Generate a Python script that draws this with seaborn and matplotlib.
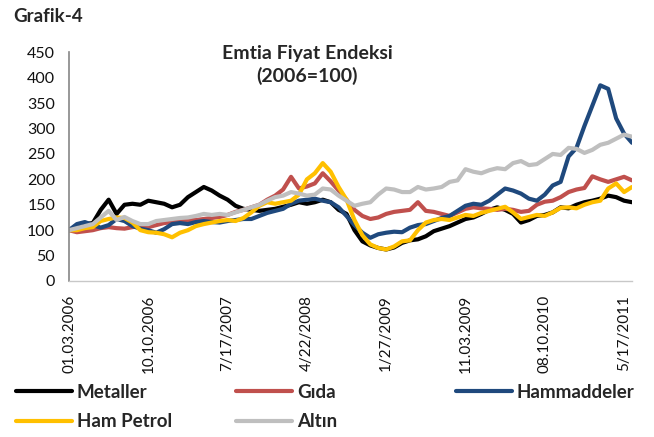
import numpy as np
import pandas as pd
import matplotlib
matplotlib.use("Agg")
import matplotlib.pyplot as plt
import seaborn as sns

# ---- data (index values, sampled every 20 business days from 01.03.2006) ----
metaller = [100, 108, 112, 114, 140, 160, 132, 150, 152, 150,
            158, 155, 152, 145, 150, 165, 175, 185, 178, 168,
            160, 148, 142, 140, 138, 140, 142, 146, 150, 155,
            152, 155, 160, 155, 140, 132, 100, 78, 70, 65,
            62, 66, 75, 80, 82, 88, 98, 103, 108, 115,
            122, 125, 132, 140, 145, 140, 132, 115, 120, 128,
            130, 135, 145, 143, 150, 155, 158, 162, 168, 165,
            158, 155]
gida = [100, 96, 98, 100, 104, 106, 104, 103, 106, 108,
        106, 110, 114, 116, 118, 120, 120, 122, 124, 126,
        130, 136, 140, 145, 150, 160, 168, 180, 205, 182,
        186, 192, 212, 196, 178, 160, 140, 128, 122, 125,
        132, 136, 138, 140, 155, 138, 136, 132, 128, 135,
        142, 145, 143, 142, 140, 142, 140, 136, 138, 150,
        156, 158, 165, 175, 180, 183, 206, 200, 195, 200,
        205, 198]
hammaddeler = [100, 112, 116, 110, 105, 110, 122, 118, 108, 103,
               100, 95, 102, 112, 114, 112, 116, 118, 116, 115,
               118, 120, 122, 122, 128, 134, 138, 142, 152, 158,
               160, 162, 158, 155, 145, 128, 110, 95, 85, 92,
               95, 97, 96, 105, 110, 112, 118, 124, 128, 138,
               148, 152, 150, 158, 170, 182, 178, 172, 162, 158,
               170, 188, 195, 245, 262, 305, 345, 385, 378, 320,
               290, 272]
ham_petrol = [100, 100, 104, 106, 118, 122, 125, 124, 115, 100,
              96, 95, 92, 86, 95, 100, 108, 112, 115, 118,
              120, 118, 124, 135, 148, 155, 152, 155, 158, 170,
              200, 212, 232, 215, 185, 160, 120, 90, 72, 65,
              62, 68, 78, 80, 100, 115, 120, 122, 120, 125,
              130, 128, 134, 138, 142, 146, 135, 122, 126, 130,
              128, 135, 144, 145, 143, 150, 155, 158, 182, 192,
              175, 185]
altin = [100, 104, 108, 112, 125, 138, 120, 126, 118, 112,
         112, 118, 120, 122, 124, 125, 128, 132, 130, 132,
         130, 135, 140, 145, 150, 158, 165, 168, 175, 172,
         168, 170, 182, 180, 168, 158, 148, 152, 155, 170,
         182, 180, 175, 175, 185, 180, 182, 185, 195, 198,
         220, 215, 212, 218, 222, 220, 232, 236, 228, 230,
         240, 250, 248, 262, 260, 252, 258, 268, 272, 280,
         288, 284]

series_names = ["Metaller", "Gıda", "Hammaddeler", "Ham Petrol", "Altın"]
series_values = [metaller, gida, hammaddeler, ham_petrol, altin]
colors = ["#000000", "#C0504D", "#1F497D", "#FFC000", "#BFBFBF"]
tick_labels = ["01.03.2006", "10.10.2006", "7/17/2007", "4/22/2008",
               "1/27/2009", "11.03.2009", "08.10.2010", "5/17/2011"]
step = 20          # business days between samples
tick_every = 200   # business days between labels

# ---- long-form frame ----
frames = []
for name, vals in zip(series_names, series_values):
    frames.append(pd.DataFrame({"day": np.arange(len(vals)) * step,
                                "value": vals, "series": name}))
df = pd.concat(frames, ignore_index=True)

sns.set_style("white")
plt.rcParams["font.family"] = ["Lato", "DejaVu Sans"]

fig = plt.figure(figsize=(6.54, 4.37), dpi=100)
ax = fig.add_axes([69 / 654, 1 - 281 / 437, (632 - 69) / 654, (281 - 52.3) / 437])

sns.lineplot(data=df, x="day", y="value", hue="series", hue_order=series_names,
             palette=colors, linewidth=3, sort=False, legend=False, ax=ax)

ax.set_xlim(0, (len(metaller) - 1) * step)
ax.set_ylim(0, 450)
ax.set_yticks(np.arange(0, 451, 50))
ax.set_xticks(np.arange(len(tick_labels)) * tick_every)
ax.set_xticklabels(tick_labels, rotation=90, fontsize=11, color="#111111")
ax.set_xticks(np.arange(0, (len(metaller) - 1) * step + 1, 8), minor=True)
ax.tick_params(axis="x", which="major", length=0, pad=10)
ax.tick_params(axis="x", which="minor", length=4, width=0.6, color="#BDBDBD",
               direction="inout")
ax.tick_params(axis="y", which="major", length=4, width=1, color="#868686",
               direction="out", labelsize=11.5, labelcolor="#111111", pad=6)
ax.set_xlabel("")
ax.set_ylabel("")
for s in ["top", "right"]:
    ax.spines[s].set_visible(False)
ax.spines["left"].set_color("#868686")
ax.spines["left"].set_linewidth(1.2)
ax.spines["bottom"].set_color("#C8C8C8")
ax.spines["bottom"].set_linewidth(1.0)

# titles
fig.text(13 / 654, 1 - 17 / 437, "Grafik-4", fontsize=13.5, fontweight="bold",
         ha="left", va="center")
fig.text(307 / 654, 1 - 53 / 437, "Emtia Fiyat Endeksi", fontsize=14,
         fontweight="bold", ha="center", va="center")
fig.text(307 / 654, 1 - 76 / 437, "(2006=100)", fontsize=14,
         fontweight="bold", ha="center", va="center")

# legend in three columns
handles = {name: plt.Line2D([], [], color=c, linewidth=3)
           for name, c in zip(series_names, colors)}
columns = [(["Metaller", "Ham Petrol"], 16), (["Gıda", "Altın"], 236),
           (["Hammaddeler"], 456)]
for names, xpx in columns:
    fig.legend([handles[n] for n in names], names, loc="upper left",
               bbox_to_anchor=(xpx / 654, 1 - 384 / 437), frameon=False,
               handlelength=3.0, handletextpad=0.25, labelspacing=0.65,
               borderaxespad=0, borderpad=0,
               prop={"weight": "bold", "size": 13.5})

fig.savefig("out.png", dpi=100)
